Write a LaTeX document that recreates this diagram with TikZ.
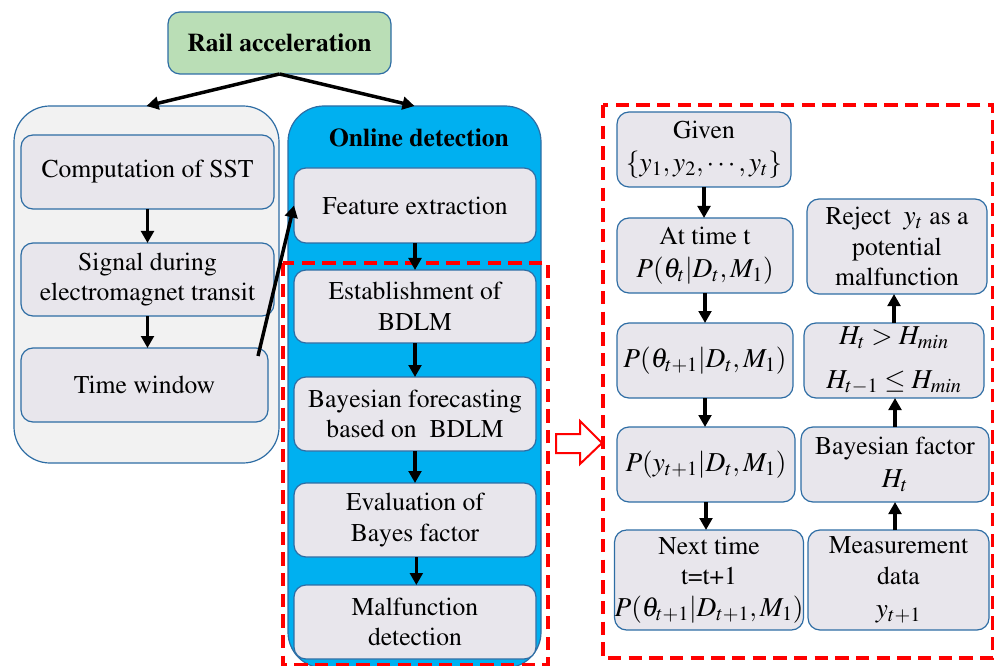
\documentclass[tikz,border=0pt]{standalone}
\usepackage[T1]{fontenc}
\usepackage{mathptmx}
\usetikzlibrary{arrows.meta}
\definecolor{boxfill}{HTML}{E8E6EC}
\definecolor{boxline}{HTML}{2E6DA4}
\definecolor{leftfill}{HTML}{F2F2F2}
\definecolor{bluefill}{HTML}{00B0F0}
\definecolor{greenfill}{HTML}{BADEB6}
\definecolor{redline}{HTML}{FF0000}
\newcommand\mbig{\fontsize{20.5pt}{24pt}\selectfont}
\begin{document}
\begin{tikzpicture}[x=0.75pt,y=-0.75pt,
  every node/.style={inner sep=0pt, outer sep=0pt},
  wh/.style 2 args={minimum width=#1*0.75pt, minimum height=#2*0.75pt},
  txt/.style={align=center, font=\rmfamily\fontsize{19.2pt}{22.8pt}\selectfont},
  box/.style={draw=boxline, fill=boxfill, rounded corners=9pt, line width=0.9pt, txt},
  container/.style={draw=boxline, rounded corners=27pt, line width=0.9pt},
  arr/.style={line width=2.6pt, -{Triangle[length=9pt,width=9.5pt]}},
  reddash/.style={draw=redline, line width=2.6pt, dash pattern=on 10pt off 5.5pt},
]
\useasboundingbox (0,0) rectangle (994,666);

% containers
\node[container, fill=leftfill, wh={265}{357}] (leftc) at (146.5,284.5) {};
\node[container, fill=bluefill, wh={253}{562}] (rightc) at (414.5,387) {};
\node[txt, font=\rmfamily\bfseries\fontsize{19.2pt}{22.8pt}\selectfont] (online) at (419,138) {Online detection};

% top node
\node[box, fill=greenfill, wh={223}{62}, font=\rmfamily\bfseries\fontsize{19.2pt}{22.8pt}\selectfont] (rail) at (279.5,43) {Rail acceleration};

% left column
\node[box, wh={253}{74}] (comp) at (147.5,172) {Computation of SST};
\node[box, wh={253}{73}] (signal) at (147.5,279.5) {Signal during\\electromagnet transit};
\node[box, wh={247}{74}] (time) at (144.5,385) {Time window};

% blue column
\node[box, wh={242}{75}] (feat) at (415,205.5) {Feature extraction};
\node[box, wh={242}{73}] (estab) at (415,306.5) {Establishment of\\BDLM};
\node[box, wh={242}{74}] (fore) at (415,414) {Bayesian forecasting\\based on~~BDLM};
\node[box, wh={242}{74}] (eval) at (415,520) {Evaluation of\\Bayes factor};
\node[box, wh={242}{74}] (malf) at (415,622) {Malfunction\\detection};

% red dashed frames
\draw[reddash] (283,263) rectangle (548,665);
\draw[reddash] (603,105) rectangle (993,658);

% open block arrow
\draw[draw=redline, line width=1.5pt, fill=white] (556,434) -- (580,434) -- (580,421) -- (602,443) -- (580,464) -- (580,453) -- (556,453) -- cycle;

% right panel
\node[box, wh={174}{75}] (given) at (704,149.5) {Given\\[2pt]{\mbig$\{y_1, y_2, \cdots, y_t\}$}};
\node[box, wh={176}{75}] (attime) at (705,255.5) {At time t\\[2pt]{\mbig$P(\theta_t|D_t, M_1)$}};
\node[box, wh={176}{75}] (ptheta) at (705,360.5) {\mbig$P(\theta_{t+1}|D_t, M_1)$};
\node[box, wh={178}{75}] (py) at (706,464.5) {\mbig$P(y_{t+1}|D_t, M_1)$};
\node[box, wh={184}{100}] (next) at (709,580) {Next time\\t=t+1\\[1pt]{\mbig$P(\theta_{t+1}|D_{t+1}, M_1)$}};
\node[box, wh={180}{95}] (reject) at (897,246.5) {Reject~ {\mbig$y_t$} as a\\potential\\malfunction};
\node[box, wh={180}{75}] (hcond) at (894,360.5) {\mbig$H_t > H_{min}$\\[10pt]{\mbig$H_{t-1} \le H_{min}$}};
\node[box, wh={188}{75}] (bfac) at (895,464.5) {Bayesian factor\\[2pt]{\mbig$H_t$}};
\node[box, wh={181}{100}] (meas) at (898.5,580) {Measurement\\data\\[2pt]{\mbig$y_{t+1}$}};

% connectors
\draw[arr] (rail.south) -- (leftc.north);
\draw[arr] (rail.south) -- (rightc.north);
\draw[arr] (comp.south) -- (signal.north);
\draw[arr] (signal.south) -- (signal.south |- time.north);
\coordinate (twstart) at (258,356);
\draw[arr] (twstart) -- (feat.west);
\draw[arr] (feat.south) -- (estab.north);
\draw[arr] (estab.south) -- (fore.north);
\draw[arr] (fore.south) -- (eval.north);
\draw[arr] ([xshift=1pt]eval.south) -- ([xshift=1pt]malf.north);

\draw[arr] (given.south) -- (given.south |- attime.north);
\draw[arr] (attime.south) -- (ptheta.north);
\draw[arr] (ptheta.south) -- (ptheta.south |- py.north);
\draw[arr] (py.south) -- (py.south |- next.north);
\draw[arr] (bfac.south |- meas.north) -- (bfac.south);
\draw[arr] (bfac.north) -- (bfac.north |- hcond.south);
\draw[arr] (hcond.north) -- (hcond.north |- reject.south);
\end{tikzpicture}
\end{document}
